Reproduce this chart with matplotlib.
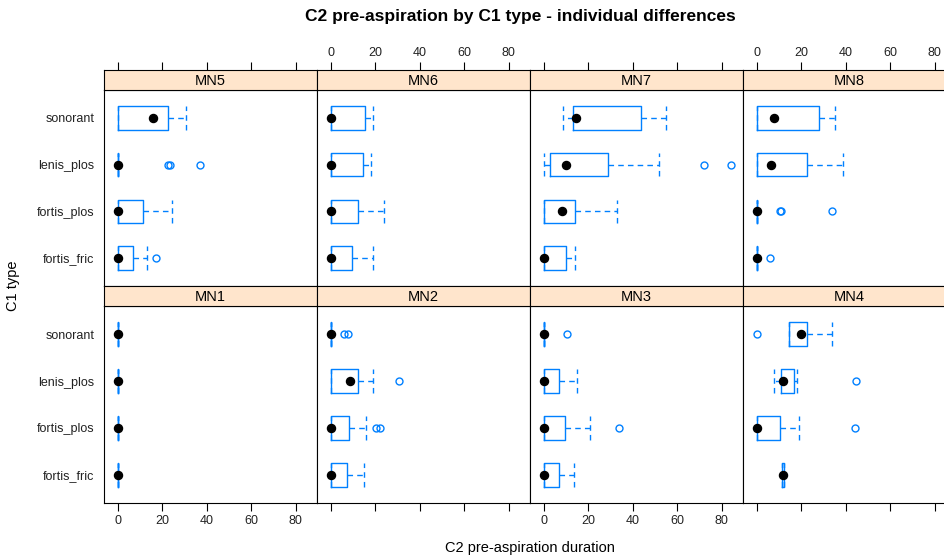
import matplotlib.pyplot as plt

plt.rcParams["font.family"] = ["Liberation Sans", "DejaVu Sans"]

# C1 types, bottom to top as drawn
categories = ["fortis_fric", "fortis_plos", "lenis_plos", "sonorant"]

# per speaker: (whisker low, q1, median, q3, whisker high) for each C1 type
MN1 = [(0, 0, 0, 0, 0), (0, 0, 0, 0, 0), (0, 0, 0, 0, 0), (0, 0, 0, 0, 0)]
MN2 = [(0, 0, 0, 7.2, 15.0), (0, 0, 0, 8.0, 15.9), (0, 0, 8.7, 12.2, 18.8), (0, 0, 0, 0, 0)]
MN3 = [(0, 0, 0, 6.9, 13.4), (0, 0, 0, 9.5, 20.7), (0, 0, 0, 6.8, 14.9), (0, 0, 0, 0, 0)]
MN4 = [(11.4, 11.4, 11.7, 12.3, 12.3), (0, 0, 0, 10.5, 18.9), (7.5, 11.0, 11.7, 16.5, 18.0), (14.6, 14.6, 20.0, 22.5, 33.8)]
MN5 = [(0, 0, 0, 6.6, 13.2), (0, 0, 0, 11.4, 24.3), (0, 0, 0, 0, 0), (0, 0, 15.9, 22.7, 30.6)]
MN6 = [(0, 0, 0, 9.5, 18.9), (0, 0, 0, 12.2, 24.0), (0, 0, 0, 14.6, 18.2), (0, 0, 0, 15.3, 19.1)]
MN7 = [(0, 0, 0, 9.8, 13.8), (0, 0, 8.3, 13.8, 32.7), (0, 2.7, 9.9, 28.7, 51.8), (8.4, 12.9, 14.6, 43.5, 55.0)]
MN8 = [(0, 0, 0, 0, 0), (0, 0, 0, 0, 0), (0, 0, 6.3, 22.7, 38.9), (0, 0, 7.7, 27.9, 35.0)]

# outliers for each C1 type
MN1_out = [[], [], [], []]
MN2_out = [[], [20.3, 21.9], [30.8], [6.0, 7.8]]
MN3_out = [[], [33.6], [], [10.5]]
MN4_out = [[], [44.0], [44.7], [0]]
MN5_out = [[17.1], [], [22.4, 23.4, 36.9], []]
MN6_out = [[], [], [], []]
MN7_out = [[], [], [72.2, 84.1], []]
MN8_out = [[5.7], [10.5, 11.0, 33.9], [], []]

speakers = {
    "MN1": (MN1, MN1_out), "MN2": (MN2, MN2_out), "MN3": (MN3, MN3_out), "MN4": (MN4, MN4_out),
    "MN5": (MN5, MN5_out), "MN6": (MN6, MN6_out), "MN7": (MN7, MN7_out), "MN8": (MN8, MN8_out),
}
xticks = [0, 20, 40, 60, 80]

BLUE = "#0080ff"
STRIP = "#ffe5cc"
W, H = 944, 558

fig = plt.figure(figsize=(W / 100, H / 100), dpi=100)


def frac(x, y_top, w, h):
    # pixel box -> figure fraction
    return [x / W, 1 - (y_top + h) / H, w / W, h / H]


rows = [(["MN5", "MN6", "MN7", "MN8"], 90, 70, True), (["MN1", "MN2", "MN3", "MN4"], 306, 286, False)]
for names, panel_top, strip_top, is_top in rows:
    for i, name in enumerate(names):
        x0 = 104 + 213 * i
        ax = fig.add_axes(frac(x0, panel_top, 213, 197 if not is_top else 196))
        stats, outs = speakers[name]
        bxp_stats = []
        for (lo, q1, med, q3, hi), fl in zip(stats, outs):
            bxp_stats.append(dict(whislo=lo, q1=q1, med=med, q3=q3, whishi=hi, mean=med, fliers=fl))
        ax.bxp(bxp_stats, positions=range(1, 5), widths=0.5, capwidths=0.5,
               orientation="horizontal", showmeans=True,
               boxprops=dict(color=BLUE, lw=1),
               whiskerprops=dict(color=BLUE, lw=1, ls=(0, (4, 3))),
               capprops=dict(color=BLUE, lw=1, ls=(0, (4, 3))),
               medianprops=dict(visible=False),
               meanprops=dict(marker="o", markerfacecolor="black", markeredgecolor="black", markersize=5.8),
               flierprops=dict(marker="o", markerfacecolor="none", markeredgecolor=BLUE, markersize=5, mew=1))
        ax.set_xlim(-6.3, 89.6)
        ax.set_ylim(0.4, 4.6)
        for s in ax.spines.values():
            s.set_color("black")
            s.set_linewidth(0.8)
        ax.set_yticks(range(1, 5))
        if i == 0:
            ax.set_yticklabels(categories, fontsize=9, color="#222222")
            ax.tick_params(axis="y", length=0, pad=7)
        else:
            ax.tick_params(axis="y", left=False, labelleft=False)

        # strip with speaker name
        sax = fig.add_axes(frac(x0, strip_top, 213, 20))
        sax.set_facecolor(STRIP)
        sax.set_xlim(-6.3, 89.6)
        sax.set_yticks([])
        sax.text(0.5, 0.45, name, ha="center", va="center", fontsize=10.5, transform=sax.transAxes)
        for s in sax.spines.values():
            s.set_color("black")
            s.set_linewidth(0.8)

        if is_top:
            ax.set_xticks([])
            sax.set_xticks(xticks)
            sax.tick_params(axis="x", bottom=False, labelbottom=False, top=True,
                            labeltop=(i % 2 == 1), length=6, width=0.8, pad=2, labelsize=9, labelcolor="#222222")
        else:
            sax.set_xticks([])
            ax.set_xticks(xticks)
            ax.tick_params(axis="x", bottom=True, labelbottom=(i % 2 == 0), length=6, width=0.8,
                           pad=3, labelsize=9, labelcolor="#222222")

fig.text(520 / W, 1 - 17 / H, "C2 pre-aspiration by C1 type - individual differences",
         ha="center", va="center", fontsize=12.5, fontweight="bold")
fig.text(530 / W, 1 - 548 / H, "C2 pre-aspiration duration", ha="center", va="center", fontsize=10.5)
fig.text(13 / W, 1 - 286 / H, "C1 type", ha="center", va="center", rotation=90, fontsize=10.5)

fig.savefig("out.png", dpi=100)
